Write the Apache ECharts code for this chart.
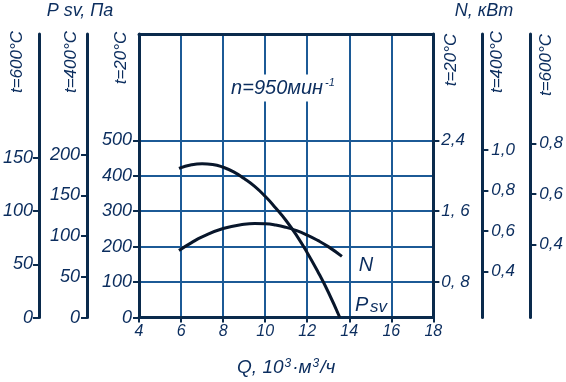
<!DOCTYPE html>
<html>
<head>
<meta charset="utf-8">
<script src="https://cdn.jsdelivr.net/npm/echarts@6/dist/echarts.min.js"></script>
<style>
html,body{margin:0;padding:0;background:#fff;}
#c{width:566px;height:382px;}
</style>
</head>
<body>
<div id="c"></div>
<script>
// Data
const qTicks = [4, 6, 8, 10, 12, 14, 16, 18];
const psvQ = [5.9, 6.5, 7.0, 7.5, 8.0, 8.5, 9.0, 9.5, 10.0, 10.5, 11.0, 11.5, 12.0, 12.5, 13.0, 13.55];
const psvVal = [421, 431, 434, 432, 424, 411, 392, 370, 342, 309, 273, 231, 183, 130, 72, 0];
const nQ = [5.9, 6.5, 7.0, 8.0, 9.0, 9.5, 10.0, 10.5, 11.0, 11.5, 12.0, 12.5, 13.0, 13.65];
const nVal = [1.157, 1.245, 1.31, 1.405, 1.452, 1.46, 1.457, 1.443, 1.417, 1.38, 1.33, 1.27, 1.2, 1.09];
const p20Ticks = [0, 100, 200, 300, 400, 500];
const p400Ticks = [0, 50, 100, 150, 200];
const p600Ticks = [0, 50, 100, 150];
const n20Ticks = [0.8, 1.6, 2.4];
const n20Labels = ['0, 8', '1, 6', '2,4'];
const n400Ticks = [0.4, 0.6, 0.8, 1.0];
const n400Labels = ['0,4', '0,6', '0,8', '1,0'];
const n600Ticks = [0.4, 0.6, 0.8];
const n600Labels = ['0,4', '0,6', '0,8'];

const AX = '#0a2a4c';
const GR = '#1c5a96';
const TX = '#0b2d5e';
const CV = '#08162b';
const FF = '"Liberation Sans", Arial, sans-serif';

function lbl(fs, labels, ticks, margin) {
  return {
    color: TX, fontSize: fs, fontStyle: 'italic', fontFamily: FF, margin: margin,
    customValues: ticks,
    formatter: labels ? function (v) {
      for (let i = 0; i < ticks.length; i++) if (Math.abs(ticks[i] - v) < 1e-6) return labels[i];
      return '';
    } : undefined
  };
}
function yAx(pos, offset, min, max, ticks, labels, fs, margin, split) {
  return {
    type: 'value', position: pos, offset: offset, min: min, max: max,
    interval: split ? 100 : undefined,
    z: 5,
    axisLine: { show: true, onZero: false, lineStyle: { color: AX, width: 3 } },
    axisTick: { show: true, length: 6, customValues: ticks, lineStyle: { color: AX, width: 2 } },
    axisLabel: lbl(fs, labels, ticks, margin),
    splitLine: { show: !!split, lineStyle: { color: GR, width: 2 } }
  };
}

const chart = echarts.init(document.getElementById('c'), null, { renderer: 'canvas' });
chart.setOption({
  animation: false,
  grid: { left: 135, right: 130, top: 34, bottom: 61, containLabel: false },
  xAxis: [{
    type: 'value', min: 4, max: 18, interval: 2, z: 5,
    axisLine: { show: true, onZero: false, lineStyle: { color: AX, width: 3 } },
    axisTick: { show: true, length: 5, customValues: qTicks, lineStyle: { color: AX, width: 2 } },
    axisLabel: { color: TX, fontSize: 16, fontStyle: 'italic', fontFamily: FF, margin: 6, customValues: qTicks },
    splitLine: { show: true, lineStyle: { color: GR, width: 2 } },
    name: '{t|Q, 10}{s|3}{t|·м}{s|3}{t|/ч}', nameLocation: 'middle', nameGap: 40,
    nameTextStyle: {
      color: TX, fontStyle: 'italic', fontFamily: FF, fontSize: 19,
      rich: {
        t: { color: TX, fontSize: 19, fontStyle: 'italic', fontFamily: FF },
        s: { color: TX, fontSize: 12, fontStyle: 'italic', fontFamily: FF, verticalAlign: 'top', padding: [0, 1, 8, 1] }
      }
    }
  }, {
    type: 'value', position: 'top', min: 4, max: 18, z: 5,
    axisLine: { show: true, onZero: false, lineStyle: { color: AX, width: 3 } },
    axisTick: { show: false }, axisLabel: { show: false }, splitLine: { show: false }
  }],
  yAxis: [
    yAx('left', 0, 0, 800, p20Ticks, null, 18, 7, true),
    yAx('left', 52, 0, 348, p400Ticks, null, 18, 7, false),
    yAx('left', 100, 0, 800 / 3, p600Ticks, null, 18, 6, false),
    yAx('right', 0, 0.4, 3.6, n20Ticks, n20Labels, 17, 8, false),
    yAx('right', 49, 0.171, 1.576, n400Ticks, n400Labels, 17, 9, false),
    yAx('right', 97, 0.113, 1.231, n600Ticks, n600Labels, 17, 9, false)
  ],
  series: [
    {
      type: 'line', name: 'Psv', xAxisIndex: 0, yAxisIndex: 0, smooth: true, symbol: 'none', z: 10,
      lineStyle: { color: CV, width: 3 },
      data: psvQ.map((q, i) => [q, psvVal[i]])
    },
    {
      type: 'line', name: 'N', xAxisIndex: 0, yAxisIndex: 3, smooth: true, symbol: 'none', z: 10,
      lineStyle: { color: CV, width: 3 },
      data: nQ.map((q, i) => [q, nVal[i]])
    }
  ],
  graphic: [
    { type: 'text', x: 80, y: 11, z: 100, style: { text: 'P sv, Па', fill: TX, fontSize: 18, fontStyle: 'italic', fontFamily: FF, align: 'center', verticalAlign: 'middle' } },
    { type: 'text', x: 484, y: 11, z: 100, style: { text: 'N, кВт', fill: TX, fontSize: 18, fontStyle: 'italic', fontFamily: FF, align: 'center', verticalAlign: 'middle' } },
    { type: 'text', x: 17, y: 62, rotation: Math.PI / 2, z: 100, style: { text: 't=600°C', fill: TX, fontSize: 17, fontStyle: 'italic', fontFamily: FF, align: 'center', verticalAlign: 'middle' } },
    { type: 'text', x: 71, y: 62, rotation: Math.PI / 2, z: 100, style: { text: 't=400°C', fill: TX, fontSize: 17, fontStyle: 'italic', fontFamily: FF, align: 'center', verticalAlign: 'middle' } },
    { type: 'text', x: 121, y: 58, rotation: Math.PI / 2, z: 100, style: { text: 't=20°C', fill: TX, fontSize: 17, fontStyle: 'italic', fontFamily: FF, align: 'center', verticalAlign: 'middle' } },
    { type: 'text', x: 451, y: 60, rotation: Math.PI / 2, z: 100, style: { text: 't=20°C', fill: TX, fontSize: 17, fontStyle: 'italic', fontFamily: FF, align: 'center', verticalAlign: 'middle' } },
    { type: 'text', x: 497, y: 62, rotation: Math.PI / 2, z: 100, style: { text: 't=400°C', fill: TX, fontSize: 17, fontStyle: 'italic', fontFamily: FF, align: 'center', verticalAlign: 'middle' } },
    { type: 'text', x: 546, y: 65, rotation: Math.PI / 2, z: 100, style: { text: 't=600°C', fill: TX, fontSize: 17, fontStyle: 'italic', fontFamily: FF, align: 'center', verticalAlign: 'middle' } },
    { type: 'text', x: 283, y: 88, z: 100, style: {
        text: '{t|n=950мин}{s|-1}', fill: TX, align: 'center', verticalAlign: 'middle',
        backgroundColor: '#fff', padding: [3, 6, 3, 6],
        rich: {
          t: { fill: TX, fontSize: 20, fontStyle: 'italic', fontFamily: FF },
          s: { fill: TX, fontSize: 11, fontStyle: 'italic', fontFamily: FF, verticalAlign: 'top', padding: [0, 0, 10, 2] }
        } } },
    { type: 'text', x: 366, y: 265, z: 100, style: { text: 'N', fill: TX, fontSize: 20, fontStyle: 'italic', fontFamily: FF, align: 'center', verticalAlign: 'middle' } },
    { type: 'text', x: 355, y: 305, z: 100, style: { text: 'P', fill: TX, fontSize: 20, fontStyle: 'italic', fontFamily: FF, align: 'left', verticalAlign: 'middle' } },
    { type: 'text', x: 370, y: 307, z: 100, style: { text: 'sv', fill: TX, fontSize: 17, fontStyle: 'italic', fontFamily: FF, align: 'left', verticalAlign: 'middle' } }
  ]
});
</script>
</body>
</html>
